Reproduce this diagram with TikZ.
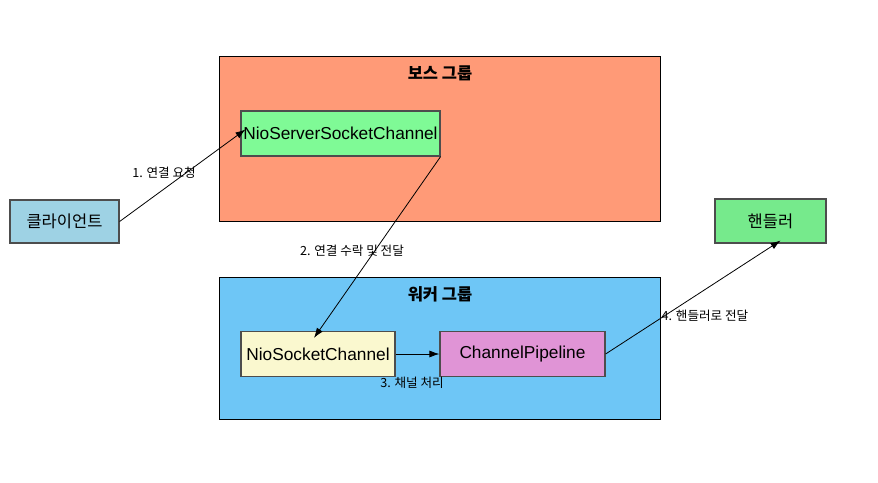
\documentclass[tikz,border=0pt]{standalone}
\usepackage{fontspec}
\setmainfont{Noto Sans CJK KR}
\newfontfamily\latinf{Liberation Sans}
\usetikzlibrary{arrows.meta}
\definecolor{bossc}{HTML}{FF9A77}
\definecolor{workc}{HTML}{6EC6F6}
\definecolor{clientc}{HTML}{9ED2E4}
\definecolor{nssc}{HTML}{7FFA96}
\definecolor{nscc}{HTML}{FAF8CF}
\definecolor{pipec}{HTML}{E094D6}
\definecolor{handc}{HTML}{76EA8C}
\definecolor{edgec}{HTML}{4D4D4D}
\begin{document}
\begin{tikzpicture}[x=1pt,y=-1pt,
  grp/.style={draw=black,line width=0.8pt},
  box/.style={draw=edgec,line width=1.2pt,inner sep=0pt},
  krtext/.style={font=\fontsize{16.5}{19}\selectfont},
  latext/.style={font=\latinf\fontsize{17.3}{20}\selectfont},
  lbl/.style={font=\fontsize{12.6}{15}\selectfont,inner sep=1pt},
  ttl/.style={font=\bfseries\fontsize{16.5}{19}\selectfont},
  arr/.style={draw=black,line width=0.8pt,-{Latex[length=10pt,width=7pt]}}]
\useasboundingbox (0,0) rectangle (878,482);
% groups
\draw[grp,fill=bossc] (219,56) rectangle (660,221);
\node[ttl] (bossT) at (440,73) {보스 그룹};
\draw[grp,fill=workc] (219,277) rectangle (660,419);
\node[ttl] (workT) at (440,294) {워커 그룹};
% nodes
\node[box,fill=clientc,minimum width=109pt,minimum height=43pt,krtext] (client) at (64.5,221.5) {클라이언트};
\node[box,fill=nssc,minimum width=199pt,minimum height=45pt,latext] (nssc) at (340.5,133.5) {NioServerSocketChannel};
\node[box,fill=nscc,minimum width=154pt,minimum height=45pt,latext] (nsc) at (318,354) {NioSocketChannel};
\node[box,fill=pipec,minimum width=165pt,minimum height=45pt,latext] (pipe) at (522.5,354) {ChannelPipeline};
\node[box,fill=handc,minimum width=111pt,minimum height=44pt,krtext] (hand) at (770.5,221) {핸들러};
% connectors
\draw[arr] (client.east) -- ([xshift=5pt,yshift=4pt]nssc.west);
\draw[arr] (nssc.south east) -- ([xshift=-4pt,yshift=-7pt]nsc.north);
\draw[arr] (nsc.east) -- (pipe.west);
\draw[arr] (pipe.east) -- ([xshift=10pt,yshift=3pt]hand.south);
% labels
\node[lbl] (l1) at (164,172.5) {1. 연결 요청};
\node[lbl] (l2) at (352,250.5) {2. 연결 수락 및 전달};
\node[lbl] (l3) at (412,382.5) {3. 채널 처리};
\node[lbl] (l4) at (705,316) {4. 핸들러로 전달};
\end{tikzpicture}
\end{document}
